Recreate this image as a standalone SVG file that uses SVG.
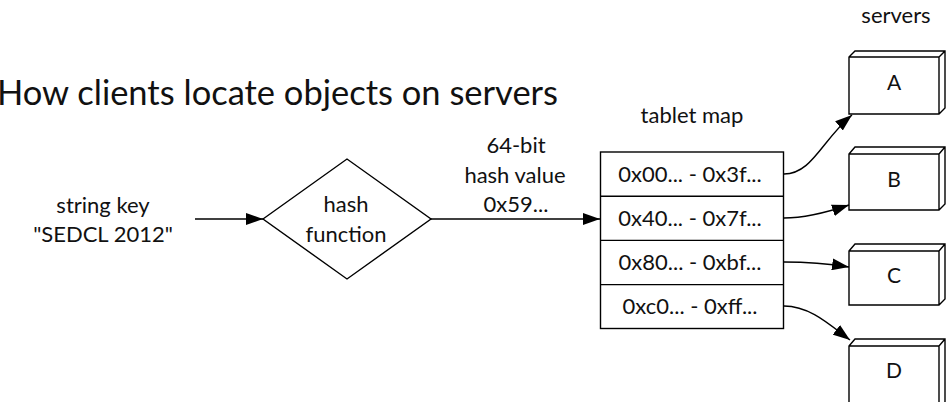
<svg xmlns="http://www.w3.org/2000/svg" width="949" height="402" viewBox="0 0 949 402">
<defs>
<marker id="ah" viewBox="0 0 17 12" refX="17" refY="6" markerWidth="17" markerHeight="12" markerUnits="userSpaceOnUse" orient="auto">
<path d="M0,0 L17,6 L0,12 Z" fill="#000"/>
</marker>
</defs>
<style>
text{font-family:Lato,"Open Sans","Liberation Sans",sans-serif;fill:#111;text-anchor:middle}
.t{font-size:22px}
.title{font-size:35px;text-anchor:start}
.shape{fill:#fff;stroke:#000;stroke-width:1.4}
.div{stroke:#000;stroke-width:1.4}
.edge{fill:none;stroke:#000;stroke-width:1.4;marker-end:url(#ah)}
.lbl{font-size:21px}
</style>
<rect width="949" height="402" fill="#fff"/>
<text class="title" x="-3" y="105" textLength="561" lengthAdjust="spacingAndGlyphs">How clients locate objects on servers</text>
<text class="t" x="896" y="23">servers</text>
<text class="t" x="692" y="123">tablet map</text>

<g id="key">
<text class="t" x="103" y="213">string key</text>
<text class="t" x="103" y="242">"SEDCL 2012"</text>
</g>

<g id="hash">
<polygon class="shape" points="263,219 347,159 431,219 347,279"/>
<text class="t" x="346" y="212">hash</text>
<text class="t" x="346" y="242">function</text>
</g>

<g id="tablet">
<rect class="shape" x="600.5" y="152" width="183" height="176.5"/>
<line class="div" x1="600.5" y1="196.2" x2="783.5" y2="196.2"/>
<line class="div" x1="600.5" y1="240.4" x2="783.5" y2="240.4"/>
<line class="div" x1="600.5" y1="284.6" x2="783.5" y2="284.6"/>
<text class="t" x="690" y="182">0x00... - 0x3f...</text>
<text class="t" x="690" y="226">0x40... - 0x7f...</text>
<text class="t" x="690" y="270">0x80... - 0xbf...</text>
<text class="t" x="690" y="314">0xc0... - 0xff...</text>
</g>

<g id="serverA">
<path class="shape" d="M849,57 L855,51 L945,51 L945,108 L939,114 L849,114 Z M849,57 L939,57 L945,51 M939,57 L939,114"/>
<text class="lbl" x="894" y="90">A</text>
</g>
<g id="serverB">
<path class="shape" d="M849,154 L855,147 L945,147 L945,204 L939,210 L849,210 Z M849,154 L939,154 L945,147 M939,154 L939,210"/>
<text class="lbl" x="894" y="187">B</text>
</g>
<g id="serverC">
<path class="shape" d="M849,251 L855,244 L945,244 L945,299 L939,305 L849,305 Z M849,251 L939,251 L945,244 M939,251 L939,305"/>
<text class="lbl" x="894" y="283">C</text>
</g>
<g id="serverD">
<path class="shape" d="M849,346 L855,339 L945,339 L945,402 L939,409 L849,409 Z M849,346 L939,346 L945,339 M939,346 L939,409"/>
<text class="lbl" x="894" y="378">D</text>
</g>

<g id="connectors">
<line class="edge" x1="195" y1="219" x2="263" y2="219"/>
<line class="edge" x1="431" y1="219" x2="600" y2="219"/>
<text class="t" x="516" y="153">64-bit</text>
<text class="t" x="515" y="183">hash value</text>
<text class="t" x="516" y="212">0x59...</text>
<path class="edge" d="M784,174 C812,174 822,140 852,115"/>
<path class="edge" d="M784,218 C805,218 825,213 849,205"/>
<path class="edge" d="M784,262 C810,262 830,264 849,267"/>
<path class="edge" d="M784,306 C810,306 830,325 850,340"/>
</g>
</svg>
